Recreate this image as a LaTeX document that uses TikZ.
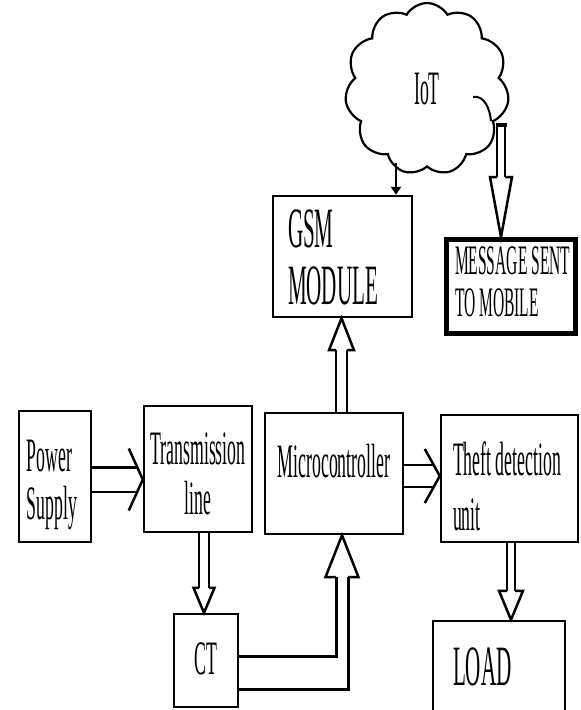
\documentclass[tikz,border=0pt]{standalone}
\usepackage{fontspec}
\setmainfont{Liberation Serif}[FakeStretch=0.37]
\usetikzlibrary{shapes.symbols,arrows.meta}

\begin{document}
\begin{tikzpicture}[
        x=1pt, y=-1pt,
        blk/.style={draw, line width=2.4pt, inner sep=0pt},
        pipe/.style={double, line width=2.5pt, double distance=#1},
        wire/.style={line width=3pt},
        tipline/.style={line width=2.5pt, line join=miter},
        pics/tipdown/.style n args={3}{code={\draw[tipline] (-#1,-#3) -- (-#2,-#3) -- (0,0) -- (#2,-#3) -- (#1,-#3);}},
        pics/tipup/.style n args={3}{code={\draw[tipline] (-#1,#3) -- (-#2,#3) -- (0,0) -- (#2,#3) -- (#1,#3);}},
        pics/tipright/.style n args={2}{code={\draw[tipline] (-#2,-#1) -- (0,0) -- (-#2,#1);}},
    ]
    \useasboundingbox (0,0) rectangle (581,710);
    \fill[white] (0,0) rectangle (581,710);
    \clip (0,0) rectangle (581,710);

    % blocks
    \node[blk] (pow) at (55,476.5) {\parbox[c][131pt][t]{72pt}{\fontsize{48}{48}\selectfont\leftskip=8pt\vspace*{29pt}Power\\Supply}};
    \node[blk] (trans) at (198,469) {\parbox[c][126pt][t]{108pt}{\fontsize{48}{50}\selectfont\centering\vspace*{27pt}Transmission\\line}};
    \node[blk] (micro) at (334,473.5) {\parbox[c][121pt][t]{138pt}{\fontsize{48}{48}\selectfont\centering\vspace*{31pt}Microcontroller}};
    \node[blk] (theft) at (509.5,478.5) {\parbox[c][127pt][t]{137pt}{\fontsize{48}{55}\selectfont\leftskip=12pt\vspace*{27pt}Theft detection\\unit}};
    \node[blk] (gsm) at (342.5,256.5) {\parbox[c][121pt][t]{139pt}{\fontsize{57}{57}\selectfont\leftskip=15pt\vspace*{13.5pt}GSM\\MODULE}};
    \node[blk, line width=5pt] (msg) at (511,286.5) {\parbox[c][94pt][t]{129pt}{\fontsize{42}{42}\selectfont\leftskip=8.5pt\vspace*{7pt}MESSAGE SENT\\TO MOBILE}};
    \node[blk] (ct) at (206,660.5) {\parbox[c][93pt][t]{64pt}{\fontsize{48}{48}\selectfont\centering\vspace*{29pt}CT}};
    \node[blk] (load) at (499,669) {\parbox[c][96pt][t]{132pt}{\fontsize{57}{57}\selectfont\leftskip=20pt\vspace*{27pt}LOAD}};

    % cloud
    \node[cloud, draw, line width=2.2pt, cloud puffs=11, cloud puff arc=120, minimum width=164pt, minimum height=172pt, inner sep=0pt, font=\fontsize{48}{48}\selectfont] (iot) at (427,89) {IoT};
    \draw[line width=2pt] (473,97) to[out=10,in=95] (491,121);
    \coordinate (iotout) at (501,125);
    \coordinate (iotin) at (396,163);

    % connectors
    \draw[pipe=22pt] ([shift={(0,3)}]pow.east) -- ([shift={(-6,10.5)}]trans.west);
    \pic at ([shift={(0,10.5)}]trans.west) {tipright={31}{14}};

    \draw[pipe=19.5pt] ([shift={(0,2.5)}]micro.east) -- ([shift={(-6,-2.5)}]theft.west);
    \pic at ([shift={(0,-2.5)}]theft.west) {tipright={27}{15}};

    \draw[pipe=7.5pt] ([shift={(6,0)}]trans.south) -- ([shift={(-2,-25)}]ct.north);
    \pic at ([shift={(-2,0)}]ct.north) {tipdown={5}{10.5}{25}};

    \draw[pipe=8.5pt] ([shift={(7.5,0)}]micro.north) -- ([shift={(-1,32)}]gsm.south);
    \pic at ([shift={(-1,0)}]gsm.south) {tipup={5.5}{12.5}{32}};

    \draw[pipe=5.5pt] ([shift={(1.5,0)}]theft.south) -- ([shift={(12,-29)}]load.north);
    \pic at ([shift={(12,0)}]load.north) {tipdown={4}{12}{29}};

    \draw[pipe=5.5pt] (iotout) -- ([shift={(-10,-60)}]msg.north);
    \draw[line width=4pt] ([shift={(-5.5,0)}]iotout) -- ([shift={(5.5,0)}]iotout);
    \pic at ([shift={(-10,0)}]msg.north) {tipdown={4}{11}{60}};

    \draw[wire] ([shift={(0,-4.5)}]ct.east) -| ([shift={(2,42)}]micro.south);
    \draw[wire] ([shift={(0,28.5)}]ct.east) -| ([shift={(14,42)}]micro.south);
    \pic at ([shift={(8,0)}]micro.south) {tipup={6}{16.5}{42}};

    \draw[line width=2.5pt, -{Triangle[length=8pt, width=10pt]}] (iotin) -- (iotin |- gsm.north);
\end{tikzpicture}
\end{document}
